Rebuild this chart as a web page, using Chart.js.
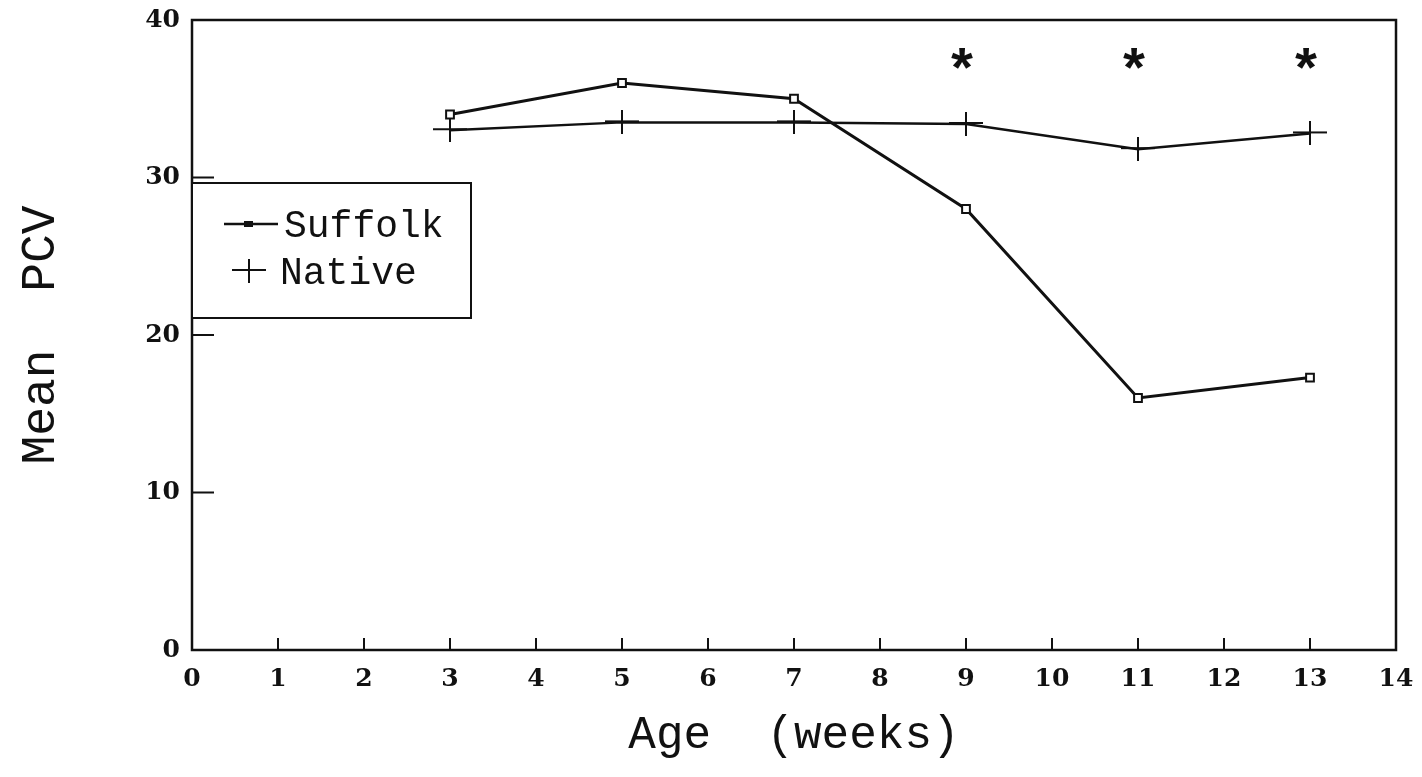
<!DOCTYPE html>
<html>
<head>
<meta charset="utf-8">
<script src="https://cdn.jsdelivr.net/npm/chart.js@4/dist/chart.umd.min.js"></script>
<style>
  html, body { margin: 0; padding: 0; background: #fff; }
  #chart { display: block; }
</style>
</head>
<body>
<canvas id="chart" width="1422" height="777"></canvas>
<script>
// values
const weeks = [3, 5, 7, 9, 11, 13];
const suffolkPCV = [34, 36, 35, 28, 16, 17.3];
const nativePCV = [33, 33.5, 33.5, 33.4, 31.8, 32.8];
const sigWeeks = [9, 11, 13];
const sigLevel = [37.5, 37.5, 37.5];
const xTicks = [0, 1, 2, 3, 4, 5, 6, 7, 8, 9, 10, 11, 12, 13, 14];
const yTicks = [0, 10, 20, 30, 40];

const INK = '#111';
const titleFont = '"Liberation Mono", "DejaVu Sans Mono", monospace';
const tickFont = '"DejaVu Serif", serif';

// plus marker, wider than tall like the plotter one
function makePlus() {
  const c = document.createElement('canvas');
  c.width = 34; c.height = 24;
  const g = c.getContext('2d');
  g.strokeStyle = INK;
  g.lineWidth = 2;
  g.beginPath();
  g.moveTo(0, 11); g.lineTo(34, 11);
  g.moveTo(17, 0); g.lineTo(17, 24);
  g.stroke();
  return c;
}
const plusMark = makePlus();

function toPoints(xs, ys) {
  return xs.map((x, i) => ({ x: x, y: ys[i] }));
}

// frame, inner tick marks, asterisks and the boxed legend
const decorPlugin = {
  id: 'decor',
  afterDraw(chart) {
    const ctx = chart.ctx;
    const a = chart.chartArea;
    const xs = chart.scales.x;
    const ys = chart.scales.y;
    ctx.save();
    ctx.strokeStyle = INK;
    ctx.lineWidth = 2.5;
    ctx.strokeRect(a.left, a.top, a.right - a.left, a.bottom - a.top);

    ctx.lineWidth = 2;
    ctx.beginPath();
    xTicks.slice(1, -1).forEach(t => {
      const px = xs.getPixelForValue(t);
      ctx.moveTo(px, a.bottom);
      ctx.lineTo(px, a.bottom - 12);
    });
    yTicks.slice(1, -1).forEach(t => {
      const py = ys.getPixelForValue(t);
      ctx.moveTo(a.left, py);
      ctx.lineTo(a.left + 22, py);
    });
    ctx.stroke();

    // significance asterisks
    ctx.fillStyle = INK;
    ctx.font = 'bold 56px ' + titleFont;
    ctx.textAlign = 'center';
    ctx.textBaseline = 'middle';
    sigWeeks.forEach((w, i) => {
      ctx.fillText('*', xs.getPixelForValue(w) - 4, ys.getPixelForValue(sigLevel[i]) + 15);
    });

    // legend box
    const bx = a.left, by = 183, bw = 279, bh = 135;
    ctx.fillStyle = '#fff';
    ctx.fillRect(bx, by, bw, bh);
    ctx.lineWidth = 2;
    ctx.strokeRect(bx, by, bw, bh);

    ctx.fillStyle = INK;
    ctx.font = '38px ' + titleFont;
    ctx.textAlign = 'left';
    ctx.textBaseline = 'alphabetic';
    const ds = chart.data.datasets;

    // Suffolk entry
    let ly = 224;
    ctx.lineWidth = 2.5;
    ctx.beginPath();
    ctx.moveTo(bx + 32, ly); ctx.lineTo(bx + 86, ly);
    ctx.stroke();
    ctx.fillRect(bx + 52, ly - 3, 9, 6);
    ctx.fillText(ds[0].label, bx + 92, ly + 13);

    // Native entry
    ly = 270;
    ctx.drawImage(plusMark, bx + 40, ly - 11);
    ctx.fillText(ds[1].label, bx + 88, ly + 14);
    ctx.restore();
  }
};

new Chart(document.getElementById('chart'), {
  type: 'scatter',
  data: {
    datasets: [
      {
        label: 'Suffolk',
        data: toPoints(weeks, suffolkPCV),
        showLine: true,
        borderColor: INK,
        borderWidth: 3,
        tension: 0,
        pointStyle: 'rect',
        pointRadius: 5.5,
        pointBorderWidth: 2,
        pointBackgroundColor: '#fff',
        pointBorderColor: INK
      },
      {
        label: 'Native',
        data: toPoints(weeks, nativePCV),
        showLine: true,
        borderColor: INK,
        borderWidth: 2.5,
        tension: 0,
        pointStyle: plusMark,
        pointRadius: 12
      }
    ]
  },
  options: {
    responsive: false,
    animation: false,
    layout: { padding: { top: 20, right: 26, left: 0, bottom: 0 } },
    plugins: {
      legend: { display: false },
      tooltip: { enabled: false }
    },
    scales: {
      x: {
        type: 'linear',
        min: 0,
        max: 14,
        afterFit(scale) {
          scale.height = 127;
          scale.paddingLeft = 0;
          scale.paddingRight = 0;
        },
        afterBuildTicks(scale) { scale.ticks = xTicks.map(v => ({ value: v })); },
        grid: { display: false, drawTicks: false },
        border: { display: false },
        ticks: {
          color: INK,
          padding: 14,
          maxRotation: 0,
          font: { family: tickFont, weight: 'bold', size: 25 }
        },
        title: {
          display: true,
          text: 'Age  (weeks)',
          color: INK,
          padding: { top: 0, bottom: 14 },
          font: { family: titleFont, size: 46 }
        }
      },
      y: {
        min: 0,
        max: 40,
        afterFit(scale) {
          scale.width = 192;
          scale.paddingTop = 0;
          scale.paddingBottom = 0;
        },
        afterBuildTicks(scale) { scale.ticks = yTicks.map(v => ({ value: v })); },
        grid: { display: false, drawTicks: false },
        border: { display: false },
        ticks: {
          color: INK,
          padding: 12,
          font: { family: tickFont, weight: 'bold', size: 25 }
        },
        title: {
          display: true,
          text: 'Mean  PCV',
          color: INK,
          padding: { top: 12, bottom: 0 },
          font: { family: titleFont, size: 48 }
        }
      }
    }
  },
  plugins: [decorPlugin]
});
</script>
</body>
</html>
